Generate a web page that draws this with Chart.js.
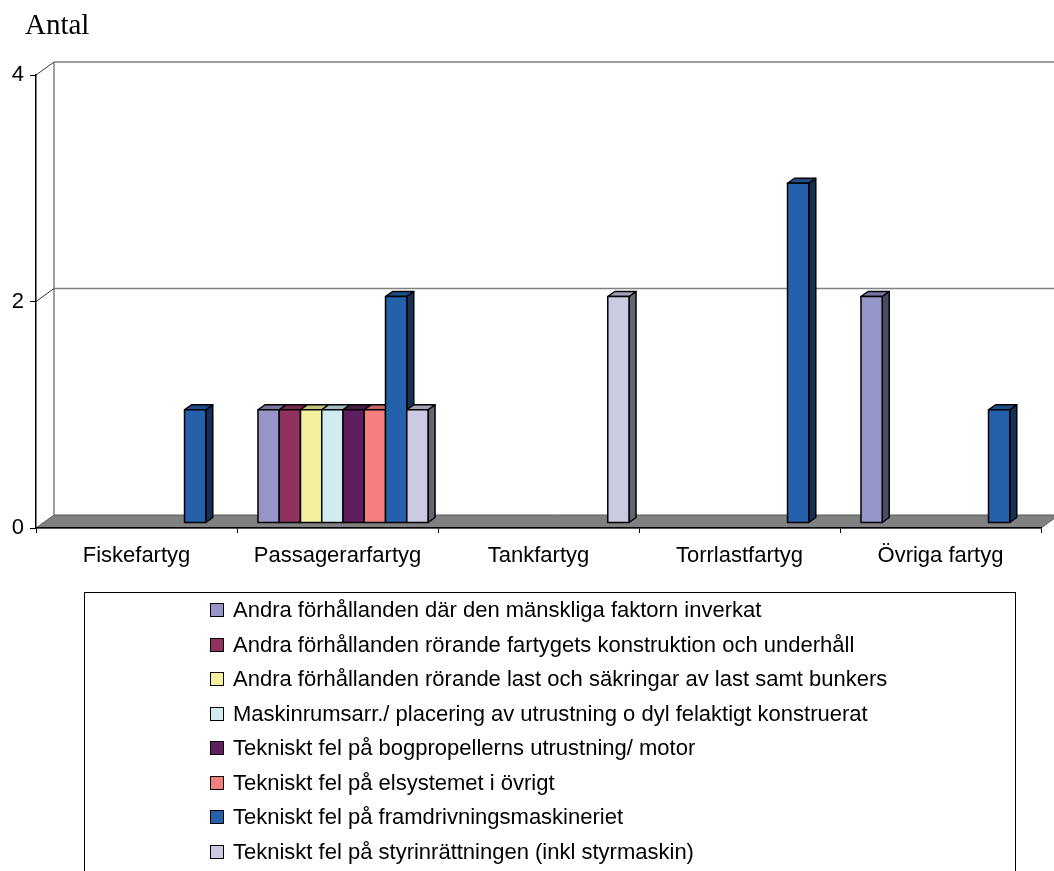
<!DOCTYPE html>
<html>
<head>
<meta charset="utf-8">
<script src="https://cdn.jsdelivr.net/npm/chart.js@4.4.1/dist/chart.umd.min.js"></script>
<style>
  html, body { margin: 0; padding: 0; background: #fff; }
  #wrap { position: relative; width: 1054px; height: 871px; overflow: hidden; background: #fff; }
  #chart { position: absolute; left: 0; top: 0; }
  #legend {
    position: absolute; left: 84px; top: 592px; width: 930px; height: 320px;
    border: 1px solid #000; font: 22px "Liberation Sans", Arial, sans-serif; color: #000;
  }
  .item { display: flex; align-items: center; height: 34.5px; padding-left: 125px; white-space: nowrap; }
  .box { width: 12px; height: 12px; border: 1px solid #000; margin-right: 9px; flex: none; }
</style>
</head>
<body>
<div id="wrap">
  <canvas id="chart" width="1054" height="871"></canvas>
  <div id="legend"></div>
</div>
<script>
// categories (x axis)
const categories = ['Fiskefartyg', 'Passagerarfartyg', 'Tankfartyg', 'Torrlastfartyg', 'Övriga fartyg'];

// y axis ticks
const yTicks = [0, 2, 4];

// series values, one per category
const andraManskliga   = [null, 1, null, null, 2];
const andraKonstruktion = [null, 1, null, null, null];
const andraLast        = [null, 1, null, null, null];
const maskinrum        = [null, 1, null, null, null];
const bogpropeller     = [null, 1, null, null, null];
const elsystem         = [null, 1, null, null, null];
const framdrivning     = [1, 2, null, 3, 1];
const styrinrattning   = [null, 1, 2, null, null];

const seriesNames = [
    'Andra förhållanden där den mänskliga faktorn inverkat',
    'Andra förhållanden rörande fartygets konstruktion och underhåll',
    'Andra förhållanden rörande last och säkringar av last samt bunkers',
    'Maskinrumsarr./ placering av utrustning o dyl felaktigt konstruerat',
    'Tekniskt fel på bogpropellerns utrustning/ motor',
    'Tekniskt fel på elsystemet i övrigt',
    'Tekniskt fel på framdrivningsmaskineriet',
    'Tekniskt fel på styrinrättningen (inkl styrmaskin)'
];
const seriesValues = [andraManskliga, andraKonstruktion, andraLast, maskinrum, bogpropeller, elsystem, framdrivning, styrinrattning];
const seriesColors = ['#9595c8', '#913160', '#f4f19e', '#d0ecf0', '#5f1f5f', '#f47f7f', '#2560ab', '#cacae3'];

// 3D look
const WALL = { dx: 18, dy: -13 };      // back wall offset from front axis
const SHIFT = { dx: 5.5, dy: -5 };     // bar front plane offset
const DEPTH = { dx: 7, dy: -5 };       // bar depth

function shade(hex, f) {
    const n = parseInt(hex.slice(1), 16);
    const r = Math.round(((n >> 16) & 255) * f);
    const g = Math.round(((n >> 8) & 255) * f);
    const b = Math.round((n & 255) * f);
    return 'rgb(' + r + ',' + g + ',' + b + ')';
}

const threeD = {
    id: 'threeD',
    beforeDraw(chart) {
        const { ctx, chartArea: a } = chart;
        const y = chart.scales.y;
        ctx.save();
        ctx.fillStyle = '#fff';
        ctx.fillRect(0, 0, chart.width, chart.height);

        // title
        ctx.fillStyle = '#000';
        ctx.font = '29px "Liberation Serif", "Times New Roman", serif';
        ctx.textBaseline = 'alphabetic';
        ctx.fillText('Antal', 25, 34);

        // floor
        const y0 = y.getPixelForValue(0);
        ctx.beginPath();
        ctx.moveTo(a.left, y0);
        ctx.lineTo(a.right, y0);
        ctx.lineTo(a.right + WALL.dx, y0 + WALL.dy);
        ctx.lineTo(a.left + WALL.dx, y0 + WALL.dy);
        ctx.closePath();
        ctx.fillStyle = '#808080';
        ctx.fill();
        ctx.strokeStyle = '#5a5a5a';
        ctx.lineWidth = 1;
        ctx.stroke();

        // back wall grid
        const yTop = y.getPixelForValue(yTicks[yTicks.length - 1]);
        ctx.strokeStyle = '#808080';
        ctx.lineWidth = 1.5;
        ctx.beginPath();
        ctx.moveTo(a.left + WALL.dx, y0 + WALL.dy);
        ctx.lineTo(a.left + WALL.dx, yTop + WALL.dy);
        ctx.stroke();
        yTicks.filter(v => v > 0).forEach(v => {
            const py = y.getPixelForValue(v);
            ctx.strokeStyle = '#808080';
            ctx.beginPath();
            ctx.moveTo(a.left + WALL.dx, py + WALL.dy);
            ctx.lineTo(chart.width + 10, py + WALL.dy);
            ctx.stroke();
            ctx.strokeStyle = '#333';
            ctx.lineWidth = 1;
            ctx.beginPath();
            ctx.moveTo(a.left, py);
            ctx.lineTo(a.left + WALL.dx, py + WALL.dy);
            ctx.stroke();
            ctx.lineWidth = 1.5;
        });
        ctx.restore();
    },
    beforeDatasetsDraw(chart) {
        const ctx = chart.ctx;
        const bars = [];
        chart.data.datasets.forEach((ds, i) => {
            chart.getDatasetMeta(i).data.forEach((el, j) => {
                if (ds.data[j] == null) return;
                bars.push({ x: el.x, y: el.y, base: el.base, w: el.width, color: ds.backgroundColor });
            });
        });
        bars.sort((p, q) => p.x - q.x);

        ctx.save();
        ctx.translate(SHIFT.dx, SHIFT.dy);
        ctx.lineWidth = 1.5;
        ctx.strokeStyle = '#000';
        ctx.lineJoin = 'round';
        bars.forEach(b => {
            const l = b.x - b.w / 2, r = b.x + b.w / 2, t = b.y, btm = b.base;
            // side
            ctx.beginPath();
            ctx.moveTo(r, btm);
            ctx.lineTo(r + DEPTH.dx, btm + DEPTH.dy);
            ctx.lineTo(r + DEPTH.dx, t + DEPTH.dy);
            ctx.lineTo(r, t);
            ctx.closePath();
            ctx.fillStyle = shade(b.color, 0.5);
            ctx.fill();
            ctx.stroke();
            // top
            ctx.beginPath();
            ctx.moveTo(l, t);
            ctx.lineTo(l + DEPTH.dx, t + DEPTH.dy);
            ctx.lineTo(r + DEPTH.dx, t + DEPTH.dy);
            ctx.lineTo(r, t);
            ctx.closePath();
            ctx.fillStyle = shade(b.color, 0.8);
            ctx.fill();
            ctx.stroke();
            // front
            ctx.fillStyle = b.color;
            ctx.fillRect(l, t, r - l, btm - t);
            ctx.strokeRect(l, t, r - l, btm - t);
        });
        ctx.restore();
        return false;
    }
};

const datasets = seriesNames.map((name, i) => ({
    label: name,
    data: seriesValues[i],
    backgroundColor: seriesColors[i],
    borderColor: '#000',
    borderWidth: 1.5,
    categoryPercentage: 0.846,
    barPercentage: 1
}));

const chart = new Chart(document.getElementById('chart'), {
    type: 'bar',
    data: { labels: categories, datasets: datasets },
    options: {
        responsive: false,
        animation: false,
        devicePixelRatio: 1,
        layout: { padding: { top: 75, right: 13, left: 0, bottom: 0 } },
        plugins: {
            legend: { display: false },
            tooltip: { enabled: false }
        },
        scales: {
            x: {
                afterFit: s => { s.height = 343; },
                grid: { offset: true, drawOnChartArea: false, drawTicks: true, tickLength: 5, color: '#000' },
                border: { color: '#000', width: 1.5 },
                ticks: {
                    color: '#000',
                    padding: 10,
                    maxRotation: 0,
                    autoSkip: false,
                    font: { family: '"Liberation Sans", Arial, sans-serif', size: 22 }
                }
            },
            y: {
                min: yTicks[0],
                max: yTicks[yTicks.length - 1],
                afterFit: s => { s.width = 36; },
                afterBuildTicks: s => { s.ticks = yTicks.map(v => ({ value: v })); },
                grid: { drawOnChartArea: false, drawTicks: true, tickLength: 6, color: '#000' },
                border: { color: '#000', width: 1.5 },
                ticks: {
                    color: '#000',
                    padding: 6,
                    font: { family: '"Liberation Sans", Arial, sans-serif', size: 22 }
                }
            }
        }
    },
    plugins: [threeD]
});

// legend built from the chart datasets
const legend = document.getElementById('legend');
chart.data.datasets.forEach(ds => {
    const row = document.createElement('div');
    row.className = 'item';
    const box = document.createElement('span');
    box.className = 'box';
    box.style.background = ds.backgroundColor;
    const txt = document.createElement('span');
    txt.textContent = ds.label;
    row.appendChild(box);
    row.appendChild(txt);
    legend.appendChild(row);
});
</script>
</body>
</html>
